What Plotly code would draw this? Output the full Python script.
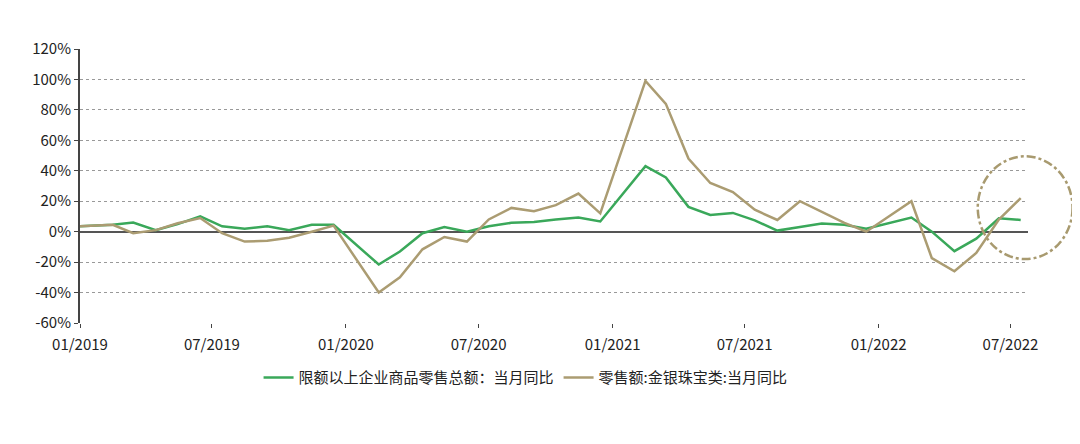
import plotly.graph_objects as go

# Monthly points (Jan+Feb merged from 2020 on)
dates = ["2019-01-01", "2019-02-15", "2019-03-15", "2019-04-15", "2019-05-15", "2019-06-15",
         "2019-07-15", "2019-08-15", "2019-09-15", "2019-10-15", "2019-11-15", "2019-12-15",
         "2020-02-15", "2020-03-15", "2020-04-15", "2020-05-15", "2020-06-15", "2020-07-15",
         "2020-08-15", "2020-09-15", "2020-10-15", "2020-11-15", "2020-12-15",
         "2021-02-15", "2021-03-15", "2021-04-15", "2021-05-15", "2021-06-15", "2021-07-15",
         "2021-08-15", "2021-09-15", "2021-10-15", "2021-11-15", "2021-12-15",
         "2022-02-15", "2022-03-15", "2022-04-15", "2022-05-15", "2022-06-15", "2022-07-15"]

retail_total = [3.5, 4.5, 6, 1, 5, 10, 3.5, 2, 3.5, 1, 4.5, 4.5,
                -21.6, -13, -1, 3, 0, 3.5, 5.8, 6.3, 8, 9.3, 6.7,
                43, 35.6, 16.3, 11, 12.3, 7.4, 0.7, 3, 5.3, 4.6, 1.9,
                9.3, 0, -12.8, -4.6, 8.8, 7.7]

jewelry = [3.5, 4.5, -1, 1, 5.5, 9, -1, -6.5, -6, -4, 0, 4,
           -40, -30, -11.6, -3.5, -6.5, 8, 15.6, 13.4, 17.4, 25, 12,
           99, 84, 48, 32, 26, 14.4, 7.7, 20, 12.8, 5.8, 0,
           20, -17.4, -26, -14, 8, 22]

y_ticks = [-60, -40, -20, 0, 20, 40, 60, 80, 100, 120]
y_labels = [f"{v}%" for v in y_ticks]
x_ticks = ["2019-01-01", "2019-07-01", "2020-01-01", "2020-07-01",
           "2021-01-01", "2021-07-01", "2022-01-01", "2022-07-01"]

fig = go.Figure()
fig.add_trace(go.Scatter(x=dates, y=retail_total, mode="lines",
                         name="限额以上企业商品零售总额：当月同比",
                         line=dict(color="#3aa85a", width=2.5)))
fig.add_trace(go.Scatter(x=dates, y=jewelry, mode="lines",
                         name="零售额:金银珠宝类:当月同比",
                         line=dict(color="#ab9c72", width=2.5)))

# dashed circle highlighting latest months
fig.add_shape(type="circle", xref="paper", yref="y",
              x0=0.947, x1=1.047, y0=-18, y1=49.5,
              line=dict(color="#a89a6f", width=2.5, dash="dashdot"))

fig.update_layout(
    width=1080, height=444,
    plot_bgcolor="white", paper_bgcolor="white",
    font=dict(family="Noto Sans CJK SC", size=15, color="#222"),
    margin=dict(l=72, r=60, t=41, b=129),
    legend=dict(orientation="h", x=0.47, xanchor="center", y=-0.14, yanchor="top",
                font=dict(size=15)),
    showlegend=True,
)
fig.update_xaxes(range=["2019-01-01", "2022-07-25"], tickvals=x_ticks, tickformat="%m/%Y",
                 showgrid=False, ticks="outside", ticklen=4, tickcolor="#444",
                 ticklabelstandoff=4, showline=False, zeroline=False)
fig.update_yaxes(range=[-60, 120], tickvals=y_ticks, ticktext=y_labels,
                 showgrid=True, gridcolor="#999", griddash="dot", gridwidth=1,
                 zeroline=True, zerolinecolor="#555", zerolinewidth=2,
                 showline=True, linecolor="#444", linewidth=2,
                 ticks="outside", ticklen=4, tickcolor="#444")

fig.write_html("out.html")
